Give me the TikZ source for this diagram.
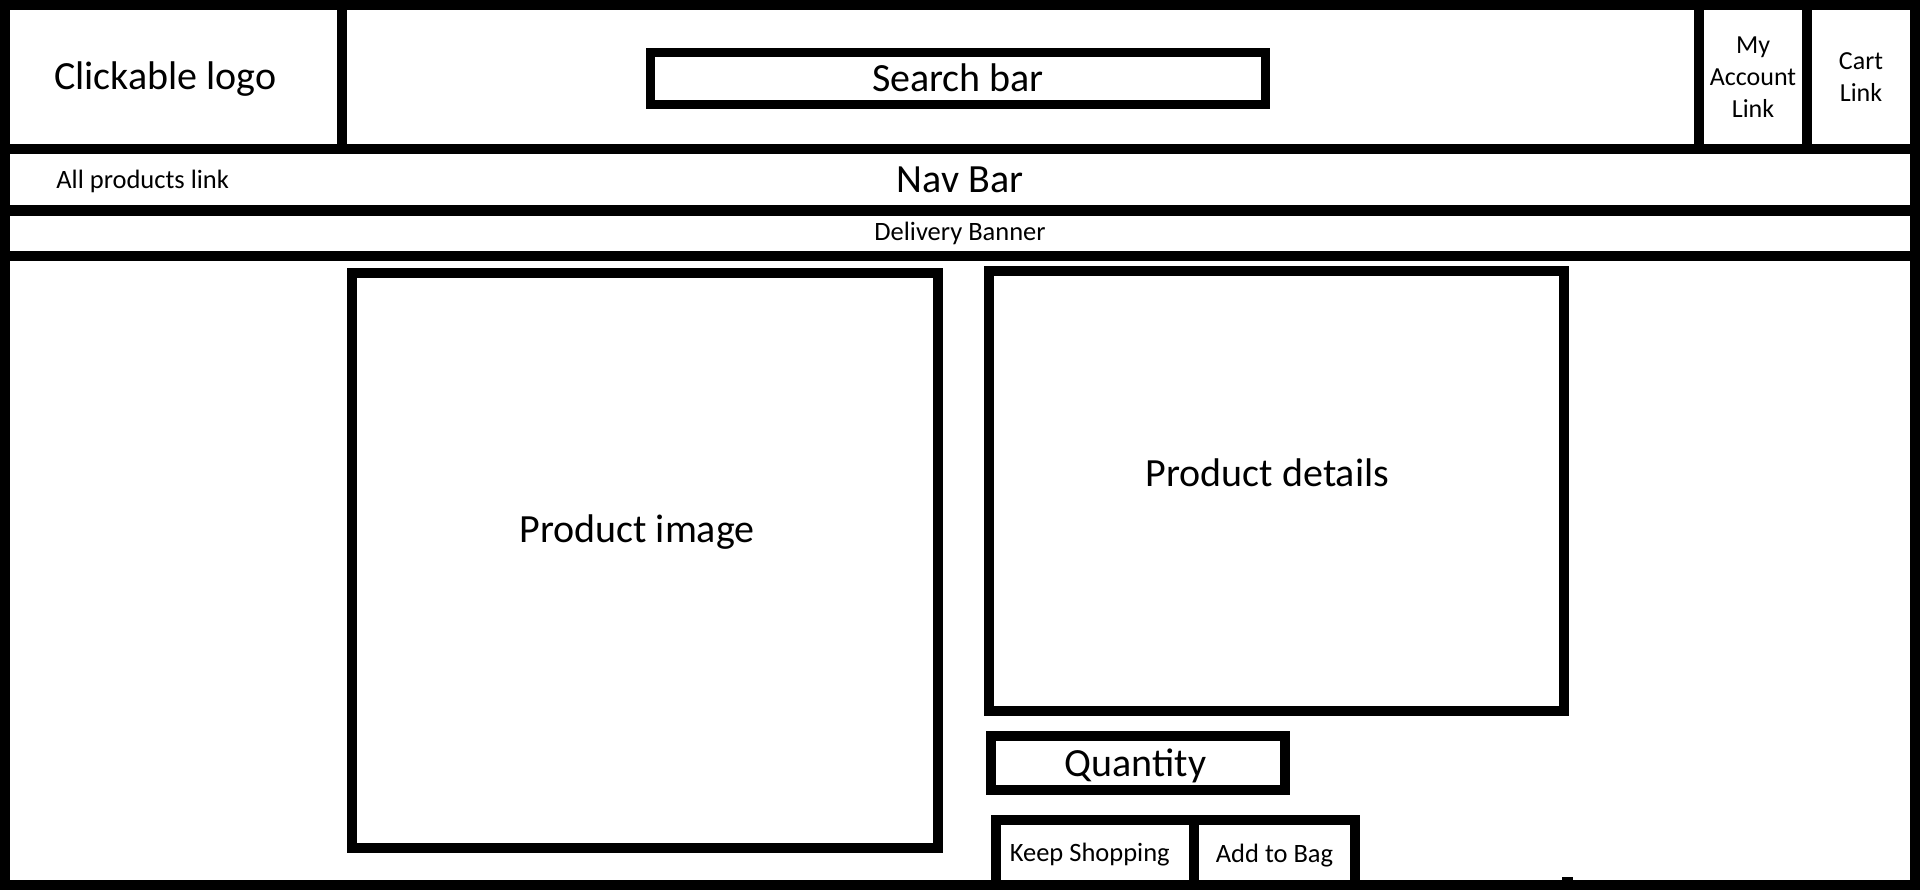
\documentclass[tikz,border=0pt]{standalone}
\usepackage{fontspec}
\setmainfont{Carlito}
\begin{document}
\begin{tikzpicture}[x=0.5pt,y=-0.5pt,
  box/.style={draw, line width=5pt, rectangle, inner sep=0pt, outer sep=0pt, align=center},
  big/.style={font=\fontsize{20}{24}\selectfont},
  small/.style={font=\fontsize{13.25}{16}\selectfont},
]
\useasboundingbox (0,0) rectangle (1920,890);

% page frame
\node[box, minimum width=955pt, minimum height=440pt] (frame) at (960,445) {};

% header row
\node[box, minimum width=168.5pt, minimum height=72pt] (logo) at (173.5,77) {};
\node[big] (logotext) at ([xshift=-4pt,yshift=-1pt]logo.center) {Clickable logo};
\node[box, big, line width=4.5pt, minimum width=307.5pt, minimum height=26pt] (search) at (958,78) {Search bar};
\node[box, font=\fontsize{13}{16}\selectfont, minimum width=54pt, minimum height=72pt] (account) at (1753,77) {My\\Account\\Link};
\node[box, font=\fontsize{13}{16}\selectfont, minimum width=54pt, minimum height=72pt] (cart) at (1861,77) {Cart\\Link};

% navigation and banner rows
\node[box, big, minimum width=955pt, minimum height=30.5pt] (nav) at (960,179.5) {Nav Bar};
\node[small, anchor=west, inner sep=0pt] (allprod) at (56,181) {All products link};
\node[box, small, minimum width=955pt, minimum height=22.5pt] (banner) at (960,233.5) {Delivery Banner};

% product area
\node[box, minimum width=293pt, minimum height=287.5pt] (pimg) at (645,560.5) {};
\node[big] (pimgtext) at ([xshift=-4pt,yshift=14pt]pimg.center) {Product image};
\node[box, minimum width=287.5pt, minimum height=219.75pt] (pdet) at (1276.5,490.75) {};
\node[big] (pdettext) at ([xshift=-4.5pt,yshift=9.25pt]pdet.center) {Product details};
\node[box, minimum width=147pt, minimum height=27pt] (qty) at (1138,763) {};
\node[big] (qtytext) at ([xshift=-1.25pt,yshift=-1.25pt]qty.center) {Quantity};
\node[box, minimum width=99.25pt, minimum height=32.5pt] (keep) at (1094.75,852.5) {};
\node[small] (keeptext) at ([xshift=-2.5pt,yshift=-1pt]keep.center) {Keep Shopping};
\node[box, minimum width=80.5pt, minimum height=32.5pt] (bag) at (1274.5,852.5) {};
\node[small] (bagtext) at ([yshift=-1.5pt]bag.center) {Add to Bag};

% small tick on the bottom edge
\fill (1562,877) rectangle (1573,881);
\end{tikzpicture}
\end{document}
